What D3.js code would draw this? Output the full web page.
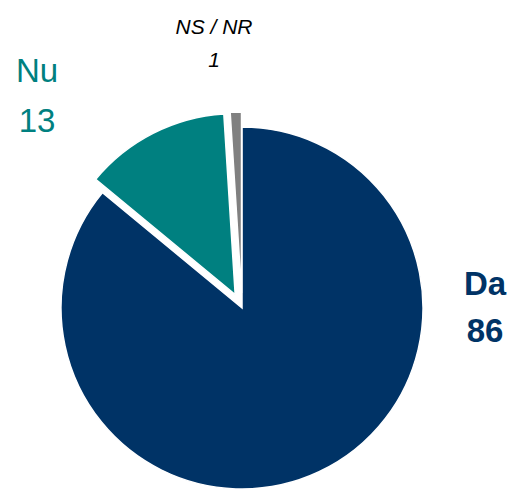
<!DOCTYPE html>
<html>
<head>
<meta charset="utf-8">
<script src="https://cdn.jsdelivr.net/npm/d3@7"></script>
<style>
  body { margin: 0; background: #fff; }
  svg text { font-family: "Liberation Sans", Arial, sans-serif; }
</style>
</head>
<body>
<div id="chart"></div>
<script>
// data
const categories = ["Da", "Nu", "NS / NR"];
const values = [86, 13, 1];
const colors = ["#003366", "#008080", "#808080"];
const explode = [0, 15, 15];

const width = 511, height = 489;
const cx = 242, cy = 308, radius = 181;

const svg = d3.select("#chart")
    .append("svg")
    .attr("width", width)
    .attr("height", height);

const pie = d3.pie().sort(null).value(d => d.value);
const arc = d3.arc().innerRadius(0).outerRadius(radius);

const slices = pie(categories.map((c, i) => ({ name: c, value: values[i], i })));

const g = svg.append("g").attr("transform", `translate(${cx}, ${cy})`);

g.selectAll("path")
  .data(slices)
  .join("path")
    .attr("d", arc)
    .attr("fill", d => colors[d.data.i])
    .attr("stroke", "#fff")
    .attr("stroke-width", 1.5)
    .attr("stroke-linejoin", "miter")
    .attr("transform", d => {
      const a = (d.startAngle + d.endAngle) / 2;
      const off = explode[d.data.i];
      return `translate(${Math.sin(a) * off}, ${-Math.cos(a) * off})`;
    });

// labels (positions chosen to match original layout)
const labels = [
  { i: 0, x: 485, y1: 295, y2: 342, size: 33, weight: "bold", style: "normal" },
  { i: 1, x: 37, y1: 82, y2: 132, size: 33, weight: "normal", style: "normal" },
  { i: 2, x: 214, y1: 34, y2: 67, size: 21, weight: "normal", style: "italic" }
];

labels.forEach(l => {
  const col = l.i === 2 ? "#000" : colors[l.i];
  svg.append("text")
      .attr("x", l.x).attr("y", l.y1)
      .attr("text-anchor", "middle")
      .attr("font-size", l.size)
      .attr("font-weight", l.weight)
      .attr("font-style", l.style)
      .attr("fill", col)
      .text(categories[l.i]);
  svg.append("text")
      .attr("x", l.x).attr("y", l.y2)
      .attr("text-anchor", "middle")
      .attr("font-size", l.size)
      .attr("font-weight", l.weight)
      .attr("font-style", l.style)
      .attr("fill", col)
      .text(values[l.i]);
});
</script>
</body>
</html>
